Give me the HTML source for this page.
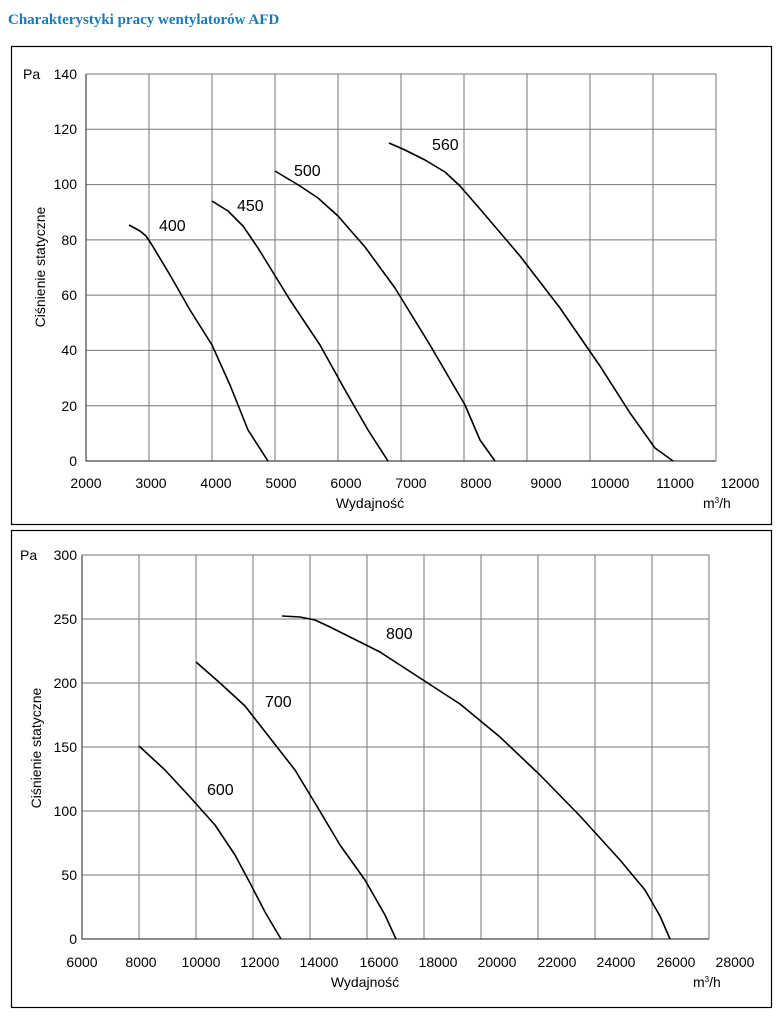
<!DOCTYPE html>
<html><head><meta charset="utf-8"><style>
body{margin:0;background:#fff;width:783px;height:1017px;overflow:hidden}
svg{display:block}
text{font-family:"Liberation Sans",sans-serif;font-size:14px;fill:#000}
.l{font-size:16px}
.g{stroke:#777;stroke-width:1;fill:none}
.c{stroke:#000;stroke-width:1.6;fill:none;stroke-linejoin:round}
</style></head><body>
<svg width="783" height="1017" viewBox="0 0 783 1017">
<text x="8" y="24" style="font-family:'Liberation Serif',serif;font-size:15px;font-weight:bold;fill:#1a7ab8">Charakterystyki pracy wentylatorów AFD</text>
<rect x="11.5" y="46.5" width="760" height="478" fill="none" stroke="#000" stroke-width="1.2"/>
<rect x="11.5" y="530.5" width="760" height="477" fill="none" stroke="#000" stroke-width="1.2"/>
<g class="g">
<path d="M86 74V461M149 74V461M212 74V461M275 74V461M338 74V461M401 74V461M464 74V461M527 74V461M590 74V461M653 74V461M716 74V461"/>
<path d="M86 74H716M86 129.3H716M86 184.6H716M86 239.9H716M86 295.1H716M86 350.4H716M86 405.7H716M86 461H716"/>
<path d="M82 555V939M139 555V939M196 555V939M253 555V939M310 555V939M367 555V939M424 555V939M481 555V939M538 555V939M595 555V939M652 555V939M709 555V939"/>
<path d="M82 555H709M82 619H709M82 683H709M82 747H709M82 811H709M82 875H709M82 939H709"/>
</g>
<path d="M86 74V461H716M82 555V939H709" stroke="#444" fill="none" stroke-width="1.2"/>
<g text-anchor="end">
<text x="77" y="79">140</text><text x="77" y="134">120</text><text x="77" y="189">100</text><text x="77" y="245">80</text><text x="77" y="300">60</text><text x="77" y="355">40</text><text x="77" y="411">20</text><text x="77" y="466">0</text>
<text x="77" y="560">300</text><text x="77" y="624">250</text><text x="77" y="688">200</text><text x="77" y="752">150</text><text x="77" y="816">100</text><text x="77" y="880">50</text><text x="77" y="944">0</text>
</g>
<text x="23" y="79">Pa</text><text x="20" y="560">Pa</text>
<g text-anchor="middle">
<text x="86" y="488">2000</text><text x="151" y="488">3000</text><text x="216" y="488">4000</text><text x="281" y="488">5000</text><text x="346" y="488">6000</text><text x="411" y="488">7000</text><text x="476" y="488">8000</text><text x="546" y="488">9000</text><text x="610" y="488">10000</text><text x="675" y="488">11000</text><text x="740" y="488">12000</text>
<text x="370" y="508">Wydajność</text>
<text x="82" y="967">6000</text><text x="141" y="967">8000</text><text x="201" y="967">10000</text><text x="260" y="967">12000</text><text x="319" y="967">14000</text><text x="379" y="967">16000</text><text x="438" y="967">18000</text><text x="497" y="967">20000</text><text x="557" y="967">22000</text><text x="616" y="967">24000</text><text x="676" y="967">26000</text><text x="735" y="967">28000</text>
<text x="365" y="987">Wydajność</text>
</g>
<text x="703" y="508">m<tspan font-size="8" dy="-5">3</tspan><tspan dy="5">/h</tspan></text>
<text x="693" y="987">m<tspan font-size="8" dy="-5">3</tspan><tspan dy="5">/h</tspan></text>
<text transform="translate(45,267) rotate(-90)" text-anchor="middle">Ciśnienie statyczne</text>
<text transform="translate(41,748) rotate(-90)" text-anchor="middle">Ciśnienie statyczne</text>
<text class="l" x="159" y="231">400</text><text class="l" x="237" y="211">450</text><text class="l" x="294" y="176">500</text><text class="l" x="432" y="150">560</text>
<text class="l" x="207" y="795">600</text><text class="l" x="265" y="707">700</text><text class="l" x="386" y="639">800</text>
<g class="c">
<path d="M129 225L140 231L146 236L152 245L170 275L190 310L212 345L230 385L248 430L268 461"/>
<path d="M212 201L228 211L243 226L258 248L290 300L320 345L345 390L368 430L388 461"/>
<path d="M275 171L300 186L318 198L338 216L365 247L395 288L430 345L465 405L480 440L495 461"/>
<path d="M389 143L405 150L425 160L445 172L460 186L480 209L520 256L560 308L600 366L630 413L655 448L673 461"/>
<path d="M139 746L165 770L190 797L215 825L235 855L250 883L265 912L281 939"/>
<path d="M196 662L220 683L245 706L270 738L295 770L318 808L340 845L365 880L385 915L396 939"/>
<path d="M282 616L300 617L315 620L330 627L350 637L380 652L420 678L460 704L500 737L540 775L580 816L620 860L645 890L660 916L670 939"/>
</g>
</svg>
</body></html>
